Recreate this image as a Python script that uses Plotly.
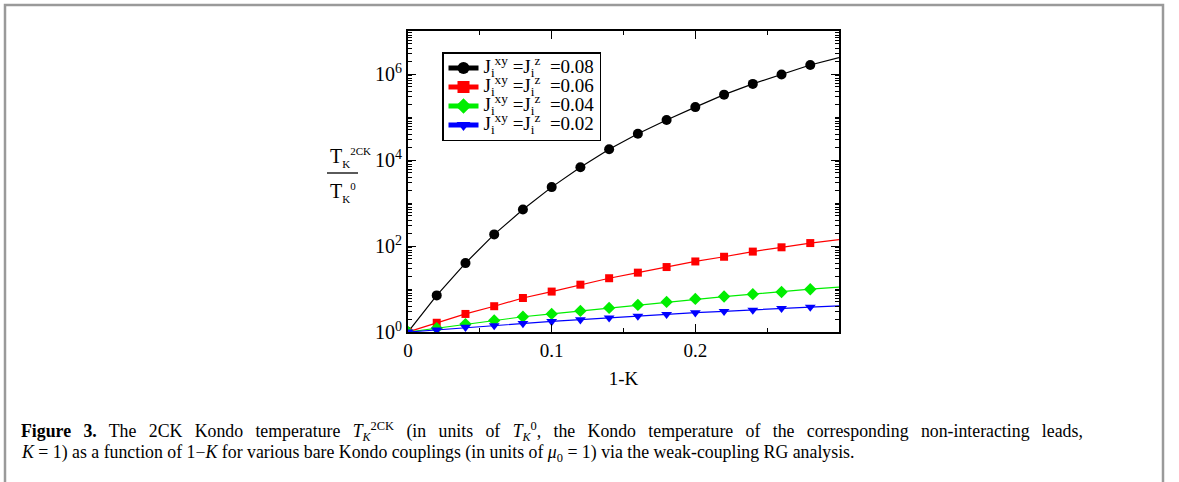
import plotly.graph_objects as go

# ---- data ----
one_minus_K = [0.00, 0.02, 0.04, 0.06, 0.08, 0.10, 0.12, 0.14, 0.16, 0.18,
               0.20, 0.22, 0.24, 0.26, 0.28, 0.30]
tk_J008 = [1, 7.1, 40, 186, 708, 2340, 6760, 17800, 40700, 85100,
           170000, 331000, 589000, 977000, 1620000, 2400000]
tk_J006 = [1, 1.64, 2.63, 3.98, 6.17, 8.71, 12.6, 17.8, 24.0, 32.4,
           43.7, 56.2, 74.1, 93.3, 117, 141]
tk_J004 = [1, 1.23, 1.53, 1.86, 2.26, 2.63, 3.09, 3.63, 4.27, 5.01,
           5.89, 6.68, 7.59, 8.51, 9.89, 11.0]
tk_J002 = [1, 1.12, 1.29, 1.41, 1.58, 1.76, 1.93, 2.14, 2.34, 2.57,
           2.82, 3.02, 3.24, 3.55, 3.80, 4.07]
n_marked = 15  # markers drawn at 0 ... 0.28; the curve runs to 0.30

series = [
    ("0.08", tk_J008, "black", "circle", 10),
    ("0.06", tk_J006, "#ff0000", "square", 8),
    ("0.04", tk_J004, "#00ee00", "diamond", 9.5),
    ("0.02", tk_J002, "#0000ff", "triangle-down", 9.5),
]

x_tickvals = [0, 0.1, 0.2]
x_ticktext = ["0", "0.1", "0.2"]
y_tickvals = [1, 1e2, 1e4, 1e6]
y_ticktext = ["10<sup>0</sup>", "10<sup>2</sup>", "10<sup>4</sup>", "10<sup>6</sup>"]

FONT = "Liberation Serif"

fig = go.Figure()
for label, vals, col, sym, size in series:
    name = ('<span style="font-size:19px">J<sub>i</sub><sup>xy</sup> =J'
            '<sub>i</sub><sup>z</sup>  =' + label + '</span>')
    fig.add_trace(go.Scatter(
        x=one_minus_K[n_marked - 1:], y=vals[n_marked - 1:], mode="lines",
        line=dict(color=col, width=1.2), showlegend=False, hoverinfo="skip"))
    fig.add_trace(go.Scatter(
        x=one_minus_K[:n_marked], y=vals[:n_marked], mode="lines+markers",
        name=name, line=dict(color=col, width=1.2),
        marker=dict(symbol=sym, size=size, color=col, line=dict(width=0))))

L, R, T, B = 408, 839, 31, 332
W, H = 1179, 482
def px(x):
    return (x - L) / (R - L)
def py(y):
    return (B - y) / (B - T)

minor_y = [k * 10 ** d for d in range(0, 7) for k in range(2, 11)]

SS = '<span style="font-size:11px">'
CS = 'font-size:12px'

caption1 = ("<b>Figure 3.</b> The 2CK Kondo temperature "
            "<i>T</i><sub><i style='" + CS + "'>K</i></sub><sup style='" + CS + "'>2CK</sup> (in units of "
            "<i>T</i><sub><i style='" + CS + "'>K</i></sub><sup style='" + CS + "'>0</sup>, the Kondo temperature of the "
            "corresponding non-interacting leads,")
caption2 = ("<i>K</i> = 1) as a function of 1−<i>K</i> for various bare Kondo "
            "couplings (in units of <i>μ</i><sub style='" + CS + "'>0</sub> = 1) via the "
            "weak-coupling RG analysis.")

fig.update_layout(
    width=W, height=H,
    margin=dict(l=L, r=W - R, t=T, b=H - B, pad=0),
    paper_bgcolor="white", plot_bgcolor="white",
    font=dict(family=FONT, color="black", size=18),
    showlegend=True,
    legend=dict(
        x=px(442), y=py(52), xanchor="left", yanchor="top",
        bgcolor="white", bordercolor="black", borderwidth=1.5,
        font=dict(family=FONT, size=12), tracegroupgap=0,
        itemwidth=30, itemsizing="constant",
    ),
    xaxis=dict(
        range=[0, 0.3], showgrid=False, zeroline=False,
        showline=True, linecolor="black", linewidth=2, mirror="allticks",
        ticks="inside", ticklen=8, tickwidth=1.2, tickcolor="black",
        tickmode="array", tickvals=x_tickvals, ticktext=x_ticktext,
        tickfont=dict(family=FONT, size=19),
        minor=dict(tickvals=[0.05, 0.15, 0.25], ticks="inside", ticklen=4,
                   tickwidth=1.2, tickcolor="black", showgrid=False),
        title=dict(text="1-K", font=dict(family=FONT, size=19), standoff=12),
    ),
    yaxis=dict(
        type="log", range=[0, 7], showgrid=False, zeroline=False,
        showline=True, linecolor="black", linewidth=2, mirror="allticks",
        ticks="inside", ticklen=8, tickwidth=1.2, tickcolor="black",
        tickmode="array", tickvals=y_tickvals, ticktext=y_ticktext,
        tickfont=dict(family=FONT, size=20),
        minor=dict(tickvals=minor_y, ticks="inside", ticklen=4,
                   tickwidth=1.2, tickcolor="black", showgrid=False),
    ),
    shapes=[
        dict(type="rect", xref="paper", yref="paper",
             x0=px(5), x1=px(1163), y0=py(495), y1=py(5),
             line=dict(color="#9a9a9a", width=2.5), layer="below"),
        dict(type="line", xref="paper", yref="paper",
             x0=px(327), x1=px(358), y0=py(173), y1=py(173),
             line=dict(color="black", width=1.3)),
    ],
    annotations=[
        dict(xref="paper", yref="paper", x=px(328), y=py(157),
             text="T<sub>" + SS + "K</span></sub><sup>" + SS + "2CK</span></sup>",
             showarrow=False, xanchor="left", yanchor="middle",
             font=dict(family=FONT, size=20)),
        dict(xref="paper", yref="paper", x=px(328), y=py(192),
             text="T<sub>" + SS + "K</span></sub><sup>" + SS + "0</span></sup>",
             showarrow=False, xanchor="left", yanchor="middle",
             font=dict(family=FONT, size=20)),
        dict(xref="paper", yref="paper", x=px(19), y=py(431),
             xanchor="left", yanchor="middle", align="left", showarrow=False,
             font=dict(family=FONT, size=17.8),
             text='<span style="word-spacing:7.9px">' + caption1 + '</span>'),
        dict(xref="paper", yref="paper", x=px(19), y=py(453),
             xanchor="left", yanchor="middle", align="left", showarrow=False,
             font=dict(family=FONT, size=17.8),
             text=caption2),
    ],
)

fig.write_html("out.html")
